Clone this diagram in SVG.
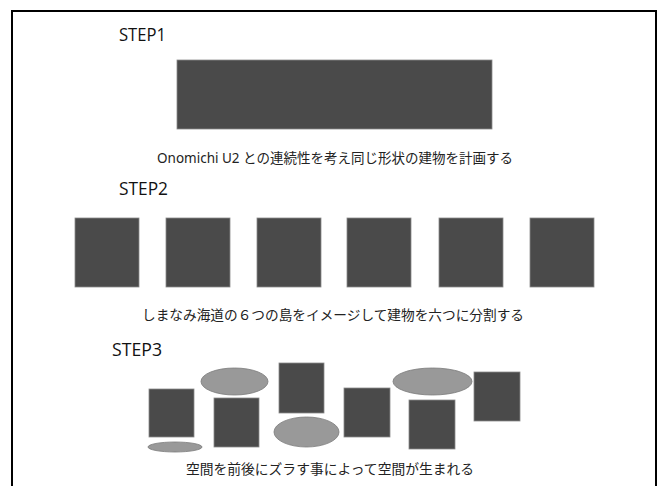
<svg xmlns="http://www.w3.org/2000/svg" width="662" height="486" viewBox="0 0 662 486">
<style>
.frame{fill:#fff;stroke:#000;stroke-width:2}
.blk{fill:#4a4a4a;stroke:#8a8a8a;stroke-width:0.8}
.ell{fill:#999;stroke:#7a7a7a;stroke-width:0.8}
.step{font-family:"Open Sans","Noto Sans",sans-serif;font-size:19px;fill:#111}
.cap{font-family:"Noto Sans","Noto Sans CJK JP",sans-serif;font-size:13.5px;fill:#222}
</style>
<rect width="662" height="486" fill="#fff"/>
<rect class="frame" x="12" y="11" width="644" height="490"/>
<g id="connectors"/>
<g id="step1">
<text class="step" x="119" y="41" textLength="47" lengthAdjust="spacingAndGlyphs">STEP1</text>
<rect class="blk" x="177" y="60" width="315" height="69"/>
<text class="cap" x="157" y="163" textLength="356" lengthAdjust="spacingAndGlyphs">Onomichi U2 との連続性を考え同じ形状の建物を計画する</text>
</g>
<g id="step2">
<text class="step" x="119" y="195" textLength="49" lengthAdjust="spacingAndGlyphs">STEP2</text>
<rect class="blk" x="75" y="218" width="64" height="69"/>
<rect class="blk" x="166" y="218" width="64" height="69"/>
<rect class="blk" x="257" y="218" width="64" height="69"/>
<rect class="blk" x="347" y="218" width="64" height="69"/>
<rect class="blk" x="439" y="218" width="64" height="69"/>
<rect class="blk" x="530" y="218" width="64" height="69"/>
<text class="cap" x="142" y="320" textLength="382" lengthAdjust="spacingAndGlyphs">しまなみ海道の６つの島をイメージして建物を六つに分割する</text>
</g>
<g id="step3">
<text class="step" x="112" y="356" textLength="50" lengthAdjust="spacingAndGlyphs">STEP3</text>
<rect class="blk" x="149" y="389" width="45" height="48"/>
<ellipse class="ell" cx="175" cy="447" rx="27" ry="5"/>
<ellipse class="ell" cx="234.5" cy="381.5" rx="33.5" ry="13.5"/>
<rect class="blk" x="214" y="398" width="45" height="49"/>
<rect class="blk" x="279" y="363" width="45" height="50"/>
<ellipse class="ell" cx="306.5" cy="432" rx="32.5" ry="15"/>
<rect class="blk" x="344" y="388" width="46" height="49"/>
<ellipse class="ell" cx="432.5" cy="381.5" rx="39.5" ry="13.5"/>
<rect class="blk" x="409" y="400" width="46" height="49"/>
<rect class="blk" x="474" y="372" width="46" height="49"/>
<text class="cap" x="186" y="474" textLength="288" lengthAdjust="spacingAndGlyphs">空間を前後にズラす事によって空間が生まれる</text>
</g>
</svg>
